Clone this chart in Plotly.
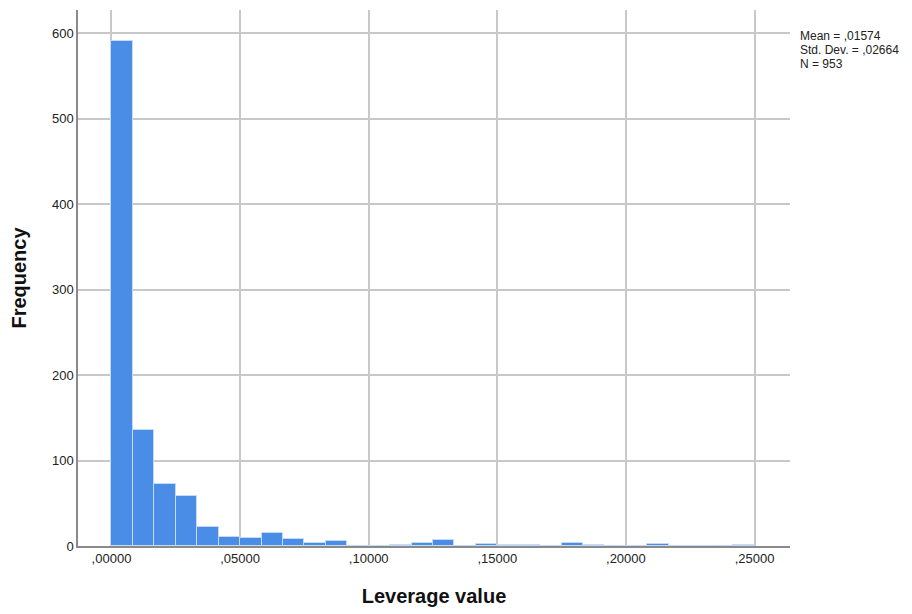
import plotly.graph_objects as go

# Histogram of leverage values: 30 equal bins from 0 to 0.25
bin_start = 0.0
bin_width = 0.25 / 30
counts = [591, 136, 72, 59, 22, 10, 9, 15, 8, 3,
          6, 0, 0, 1, 4, 7, 0, 2, 1, 1,
          0, 3, 1, 0, 0, 2, 0, 0, 0, 1]

x_tick_vals = [0.0, 0.05, 0.10, 0.15, 0.20, 0.25]
x_tick_text = [",00000", ",05000", ",10000", ",15000", ",20000", ",25000"]
y_tick_vals = [0, 100, 200, 300, 400, 500, 600]

stats_lines = ["Mean = ,01574", "Std. Dev. = ,02664", "N = 953"]

centers = [bin_start + (i + 0.5) * bin_width for i in range(len(counts))]

fig = go.Figure()
fig.add_trace(go.Bar(
    x=centers,
    y=counts,
    width=bin_width,
    marker=dict(color="#4a8de6", line=dict(color="#c4daf6", width=1)),
    hoverinfo="x+y",
))

font_family = "Liberation Sans, Arial, sans-serif"

fig.update_layout(
    width=912,
    height=614,
    margin=dict(l=78, r=122, t=10, b=65),
    paper_bgcolor="white",
    plot_bgcolor="white",
    showlegend=False,
    bargap=0,
    font=dict(family=font_family, size=13, color="#222222"),
    xaxis=dict(
        range=[-0.01302, 0.2638],
        tickvals=x_tick_vals,
        ticktext=x_tick_text,
        showgrid=True,
        gridcolor="#c8c8c8",
        gridwidth=1.5,
        zeroline=False,
        showline=True,
        linecolor="#8a8a8a",
        linewidth=1.5,
        ticks="",
        ticklen=0,
        tickfont=dict(size=13, color="#222222"),
        title=dict(text="<b>Leverage value</b>", font=dict(size=20, color="#111111"), standoff=24),
    ),
    yaxis=dict(
        range=[0, 627],
        tickvals=y_tick_vals,
        showgrid=True,
        gridcolor="#c8c8c8",
        gridwidth=1.5,
        zeroline=False,
        showline=True,
        linecolor="#8a8a8a",
        linewidth=1.5,
        ticks="",
        tickfont=dict(size=13, color="#222222"),
        title=dict(text="<b>Frequency</b>", font=dict(size=20, color="#111111"), standoff=20),
    ),
)

# Summary statistics, one line per annotation for tight spacing
for i, line in enumerate(stats_lines):
    fig.add_annotation(
        xref="paper", yref="paper",
        x=1.0, y=1.0,
        xanchor="left", yanchor="middle",
        xshift=8, yshift=-(26 + 14 * i),
        align="left",
        showarrow=False,
        text=line,
        font=dict(size=12, color="#222222", family=font_family),
    )

fig.write_html("out.html")
